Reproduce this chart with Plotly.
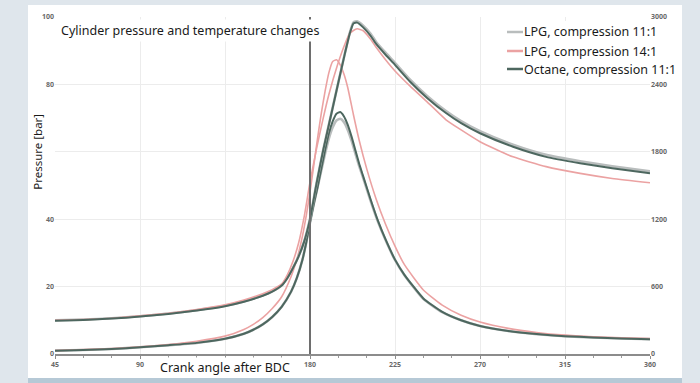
import plotly.graph_objects as go

# ---------------- data ----------------
series_names = ["LPG, compression 11:1", "LPG, compression 14:1", "Octane, compression 11:1"]
series_colors = ["#b9bdbd", "#eba2a2", "#4d675f"]

x_ticks = [45, 90, 135, 180, 225, 270, 315, 360]
x_ticklabels = ["45", "90", "", "180", "225", "270", "315", "360"]  # 135 is covered by the axis title
p_ticks = [0, 20, 40, 60, 80, 100]
p_ticklabels = ["0", "20", "40", "", "80", "100"]  # 60 is covered by the axis title
t_ticks = [0, 600, 1200, 1800, 2400, 3000]

# Pressure [bar]
p_angle = [45, 60, 75, 90, 105, 120, 135, 145, 150, 155, 160, 165, 170, 173, 176, 178, 180,
           182, 184, 186, 188, 190, 192, 194, 196, 198, 200, 202, 204, 206, 208, 212, 216, 220,
           225, 230, 240, 250, 260, 270, 285, 300, 315, 330, 345, 360]
p_octane = [1.0, 1.2, 1.5, 2.0, 2.6, 3.3, 4.5, 6.0, 7.2, 8.8, 11.0, 14.0, 18.5, 22.5, 28.0, 33.0, 39.0,
            44.5, 49.5, 55.0, 60.5, 65.5, 69.0, 71.3, 71.8, 70.5, 68.0, 64.5, 60.5, 56.5, 53.0, 46.0, 39.5, 34.0,
            28.0, 23.5, 16.5, 12.5, 10.0, 8.3, 6.8, 5.9, 5.3, 4.9, 4.6, 4.4]
p_lpg11 = [1.0, 1.2, 1.5, 2.0, 2.6, 3.3, 4.5, 6.0, 7.2, 8.8, 11.0, 14.0, 18.5, 22.5, 28.0, 33.0, 39.0,
           44.5, 49.5, 54.5, 59.5, 64.0, 67.3, 69.3, 69.8, 68.8, 66.5, 63.3, 59.5, 55.8, 52.5, 45.6, 39.2, 33.8,
           27.9, 23.4, 16.4, 12.4, 10.0, 8.3, 6.8, 5.9, 5.3, 4.9, 4.6, 4.4]

p14_angle = [45, 60, 75, 90, 105, 120, 135, 145, 150, 155, 160, 165, 170, 173, 176, 178, 180,
             182, 184, 186, 188, 190, 192, 194, 196, 198, 200, 203, 206, 210, 215, 220,
             225, 230, 240, 250, 260, 270, 285, 300, 315, 330, 345, 360]
p_lpg14 = [1.0, 1.3, 1.6, 2.1, 2.8, 3.8, 5.3, 7.3, 8.8, 10.8, 13.5, 17.0, 23.0, 28.0, 35.0, 41.0, 48.0,
           56.0, 64.0, 71.5, 78.0, 83.5, 86.8, 87.3, 85.8, 83.0, 79.0, 71.0, 63.5, 55.0, 46.0, 38.5,
           32.0, 26.5, 19.0, 14.5, 11.5, 9.5, 7.6, 6.4, 5.6, 5.1, 4.8, 4.6]

# Temperature [K]
t_angle = [45, 60, 75, 90, 105, 120, 135, 145, 155, 160, 165, 168, 171, 174, 177, 180, 183.5,
           187, 190, 194.5, 198.5, 201, 203, 205, 208, 212, 215, 220, 225, 233, 242, 252, 260,
           270, 287.5, 305, 323, 340, 360]
t_octane = [297, 303, 315, 333, 357, 387, 426, 465, 519, 555, 609, 675, 765, 870, 1005, 1200, 1521,
            1815, 2040, 2379, 2676, 2850, 2943, 2950, 2910, 2835, 2760, 2664, 2574, 2424, 2280, 2145, 2055,
            1965, 1845, 1755, 1698, 1653, 1608]
t_lpg11 = [300, 306, 318, 336, 360, 390, 429, 468, 522, 558, 612, 678, 768, 873, 1008, 1203, 1524,
           1818, 2043, 2382, 2679, 2856, 2952, 2962, 2925, 2853, 2778, 2682, 2592, 2442, 2298, 2163, 2073,
           1983, 1863, 1773, 1716, 1671, 1626]
t_lpg14 = [300, 306, 318, 339, 363, 396, 438, 480, 537, 573, 624, 705, 825, 990, 1230, 1530, 1830,
           2100, 2310, 2570, 2760, 2850, 2880, 2895, 2880, 2805, 2730, 2620, 2520, 2385, 2245, 2085, 1995,
           1890, 1755, 1668, 1608, 1563, 1524]

# ---------------- figure ----------------
fig = go.Figure()

pressure_sets = [(p_angle, p_lpg11), (p14_angle, p_lpg14), (p_angle, p_octane)]
temp_sets = [(t_angle, t_lpg11), (t_angle, t_lpg14), (t_angle, t_octane)]
widths = [2.6, 1.6, 2.0]

for i, name in enumerate(series_names):
    ax, tv = temp_sets[i]
    fig.add_trace(go.Scatter(x=ax, y=tv, name=name, yaxis="y2", mode="lines",
                             line=dict(color=series_colors[i], width=widths[i], shape="spline", smoothing=0.5),
                             showlegend=False, hoverinfo="skip"))
for i, name in enumerate(series_names):
    ax, pv = pressure_sets[i]
    fig.add_trace(go.Scatter(x=ax, y=pv, name=name, mode="lines",
                             line=dict(color=series_colors[i], width=widths[i], shape="spline", smoothing=0.5),
                             showlegend=False, hoverinfo="skip"))

# plot geometry (pixels)
W, H = 700, 383
L, R, T, B = 55, 50, 17, 29
pw, ph = W - L - R, H - T - B
def px(x):  # pixel x -> paper
    return (x - L) / pw
def py(y):  # pixel y -> paper
    return (H - B - y) / ph

shapes = [
    dict(type="rect", xref="paper", yref="paper", x0=px(28), x1=px(682), y0=py(378), y1=py(5),
         fillcolor="white", line=dict(width=0), layer="below"),
    dict(type="rect", xref="paper", yref="paper", x0=px(28), x1=px(682), y0=py(383), y1=py(378),
         fillcolor="#b6c9d6", line=dict(width=0), layer="below"),
    dict(type="line", xref="x", yref="y", x0=180, x1=180, y0=0, y1=100,
         line=dict(color="#6e6e6e", width=2), layer="above"),
    # legend box
    dict(type="rect", xref="paper", yref="paper", x0=px(502), x1=px(682), y0=py(79), y1=py(21),
         fillcolor="white", line=dict(width=0), layer="above"),
]

annotations = [
    dict(text="Cylinder pressure and temperature changes", xref="paper", yref="paper",
         x=px(58), y=py(30), xanchor="left", yanchor="middle", showarrow=False,
         font=dict(family="Noto Sans", size=12.5, color="#1a1a1a"), bgcolor="white", borderpad=2),
    dict(text="Crank angle after BDC", xref="x", yref="paper", x=135, y=py(367),
         xanchor="center", yanchor="middle", showarrow=False,
         font=dict(family="Noto Sans", size=12.5, color="#1a1a1a"), bgcolor="white", borderpad=1),
    dict(text="Pressure [bar]", xref="paper", yref="y", x=px(38), y=60, textangle=-90,
         xanchor="center", yanchor="middle", showarrow=False,
         font=dict(family="Noto Sans", size=11.5, color="#1a1a1a"), bgcolor="white", borderpad=1),
]

rows = [32, 51, 69]
for i, name in enumerate(series_names):
    shapes.append(dict(type="line", xref="paper", yref="paper", x0=px(507), x1=px(523),
                       y0=py(rows[i]), y1=py(rows[i]),
                       line=dict(color=series_colors[i], width=2.5), layer="above"))
    annotations.append(dict(text=name, xref="paper", yref="paper", x=px(522), y=py(rows[i]),
                            xanchor="left", yanchor="middle", showarrow=False,
                            font=dict(family="Noto Sans", size=12.5, color="#1a1a1a")))

tickfont = dict(family="Noto Sans", size=7, color="#6a6a6a", weight="bold")

fig.update_layout(
    width=W, height=H,
    margin=dict(l=L, r=R, t=T, b=B),
    paper_bgcolor="#dfe6ec", plot_bgcolor="white",
    showlegend=False,
    shapes=shapes, annotations=annotations,
    xaxis=dict(range=[45, 360], tickvals=x_ticks, ticktext=x_ticklabels,
               showgrid=True, gridcolor="#ececec", gridwidth=1, zeroline=False,
               showline=True, linecolor="#8c8c8c", linewidth=2,
               ticks="outside", ticklen=3, tickcolor="#8c8c8c", tickwidth=1,
               minor=dict(dtick=15, tick0=45, ticks="outside", ticklen=2, tickcolor="#9a9a9a", showgrid=False),
               tickfont=tickfont, fixedrange=True),
    yaxis=dict(range=[0, 100], tickvals=p_ticks, ticktext=p_ticklabels, showgrid=True,
               gridcolor="#ececec", gridwidth=1,
               zeroline=False, showline=False, ticks="", tickfont=tickfont, fixedrange=True),
    yaxis2=dict(range=[0, 3000], tickvals=t_ticks, overlaying="y", side="right", showgrid=False,
                zeroline=False, showline=False, ticks="", tickfont=tickfont, fixedrange=True),
)

fig.write_html("out.html", config={"displayModeBar": False},
               post_script="document.body.style.margin='0';document.body.style.overflow='hidden';")
